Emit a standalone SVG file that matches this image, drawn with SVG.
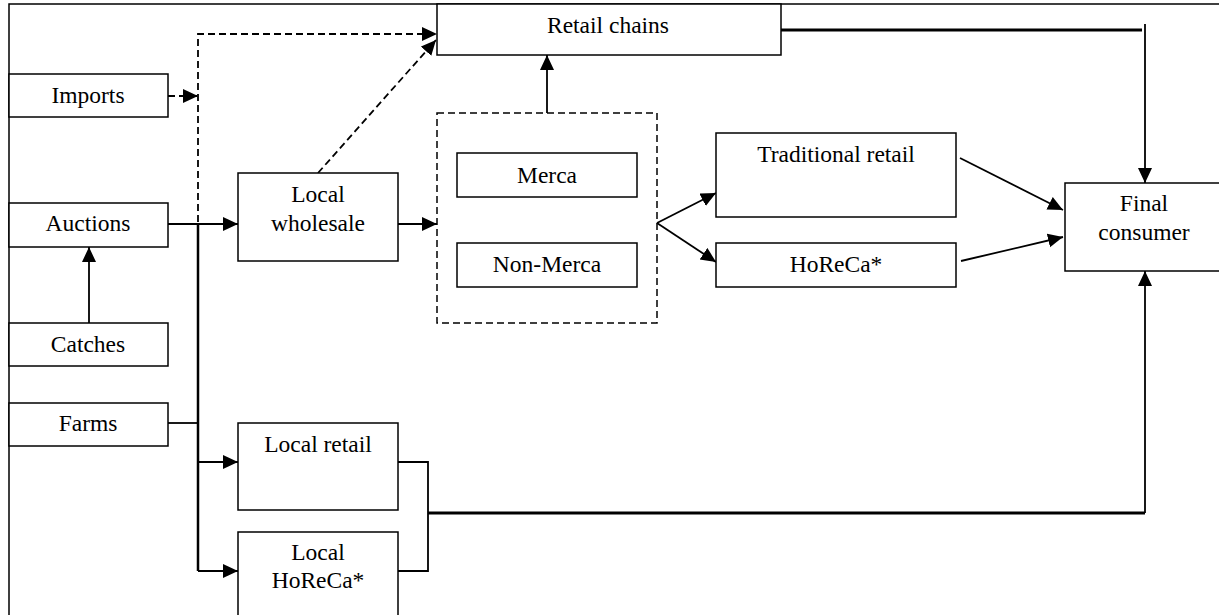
<svg xmlns="http://www.w3.org/2000/svg" width="1219" height="615" viewBox="0 0 1219 615">
<style>
.box{fill:#fff;stroke:#000;stroke-width:1.5}
.grp{fill:none;stroke:#000;stroke-width:1.5;stroke-dasharray:7 4}
text{font-family:"Liberation Serif","Times New Roman",serif;font-size:23.5px;fill:#000;text-anchor:middle}
.c{fill:none;stroke:#000;stroke-width:1.8}
.d{fill:none;stroke:#000;stroke-width:1.8;stroke-dasharray:7 4}
.t{fill:none;stroke:#000;stroke-width:3}
</style>
<defs>
<marker id="a" markerUnits="userSpaceOnUse" markerWidth="17" markerHeight="16" refX="15" refY="7" orient="auto">
<path d="M0,0 L15,7 L0,14 Z" fill="#000"/>
</marker>
</defs>
<rect width="1219" height="615" fill="#fff"/>
<g id="frame">
<path d="M9,615 V4 H1219" fill="none" stroke="#000" stroke-width="1.5"/>
</g>
<g id="connectors">
<path class="d" d="M168,96 H198" marker-end="url(#a)"/>
<path class="d" d="M198,222 V34 H437" marker-end="url(#a)"/>
<path class="d" d="M318,173 L436,40" marker-end="url(#a)"/>
<path class="c" d="M168,224 H238" marker-end="url(#a)"/>
<path class="c" d="M89,323 V247" marker-end="url(#a)"/>
<path class="c" d="M168,423 H198"/>
<path fill="none" stroke="#000" stroke-width="2.5" d="M198,223 V571"/>
<path class="c" d="M198,462 H238" marker-end="url(#a)"/>
<path class="c" d="M198,571 H238" marker-end="url(#a)"/>
<path class="c" d="M398,224 H437" marker-end="url(#a)"/>
<path class="c" d="M547,113 V55" marker-end="url(#a)"/>
<path class="c" d="M657,223 L716,193" marker-end="url(#a)"/>
<path class="c" d="M657,223 L716,262" marker-end="url(#a)"/>
<path class="c" d="M960,158 L1063,210" marker-end="url(#a)"/>
<path class="c" d="M961,261 L1063,237" marker-end="url(#a)"/>
<path class="t" d="M781,30 H1142"/>
<path class="c" d="M1145,24 V183" marker-end="url(#a)"/>
<path class="c" d="M398,462 H428 V571 H398"/>
<path class="t" d="M428,513 H1145"/>
<path class="c" d="M1145,513 V271" marker-end="url(#a)"/>
</g>
<g id="imports"><rect class="box" x="9" y="74" width="159" height="43"/><text x="88" y="103">Imports</text></g>
<g id="auctions"><rect class="box" x="9" y="203" width="159" height="44"/><text x="88" y="231">Auctions</text></g>
<g id="catches"><rect class="box" x="9" y="323" width="159" height="43"/><text x="88" y="352">Catches</text></g>
<g id="farms"><rect class="box" x="9" y="403" width="159" height="43"/><text x="88" y="431">Farms</text></g>
<g id="local-wholesale"><rect class="box" x="238" y="173" width="160" height="88"/><text x="318" y="202">Local</text><text x="318" y="231">wholesale</text></g>
<g id="retail-chains"><rect class="box" x="437" y="4" width="344" height="51"/><text x="608" y="33">Retail chains</text></g>
<g id="markets"><rect class="grp" x="437" y="113" width="220" height="210"/>
<g id="merca"><rect class="box" x="457" y="153" width="180" height="44"/><text x="547" y="183">Merca</text></g>
<g id="non-merca"><rect class="box" x="457" y="243" width="180" height="44"/><text x="547" y="272">Non-Merca</text></g>
</g>
<g id="traditional-retail"><rect class="box" x="716" y="133" width="240" height="84"/><text x="836" y="162">Traditional retail</text></g>
<g id="horeca"><rect class="box" x="716" y="243" width="240" height="44"/><text x="836" y="272">HoReCa*</text></g>
<g id="final-consumer"><path class="box" d="M1222,183 H1065 V271 H1222"/><text x="1144" y="211">Final</text><text x="1144" y="240">consumer</text></g>
<g id="local-retail"><rect class="box" x="238" y="423" width="160" height="87"/><text x="318" y="452">Local retail</text></g>
<g id="local-horeca"><path class="box" d="M238,620 V532 H398 V620"/><text x="318" y="560">Local</text><text x="318" y="588">HoReCa*</text></g>
</svg>
